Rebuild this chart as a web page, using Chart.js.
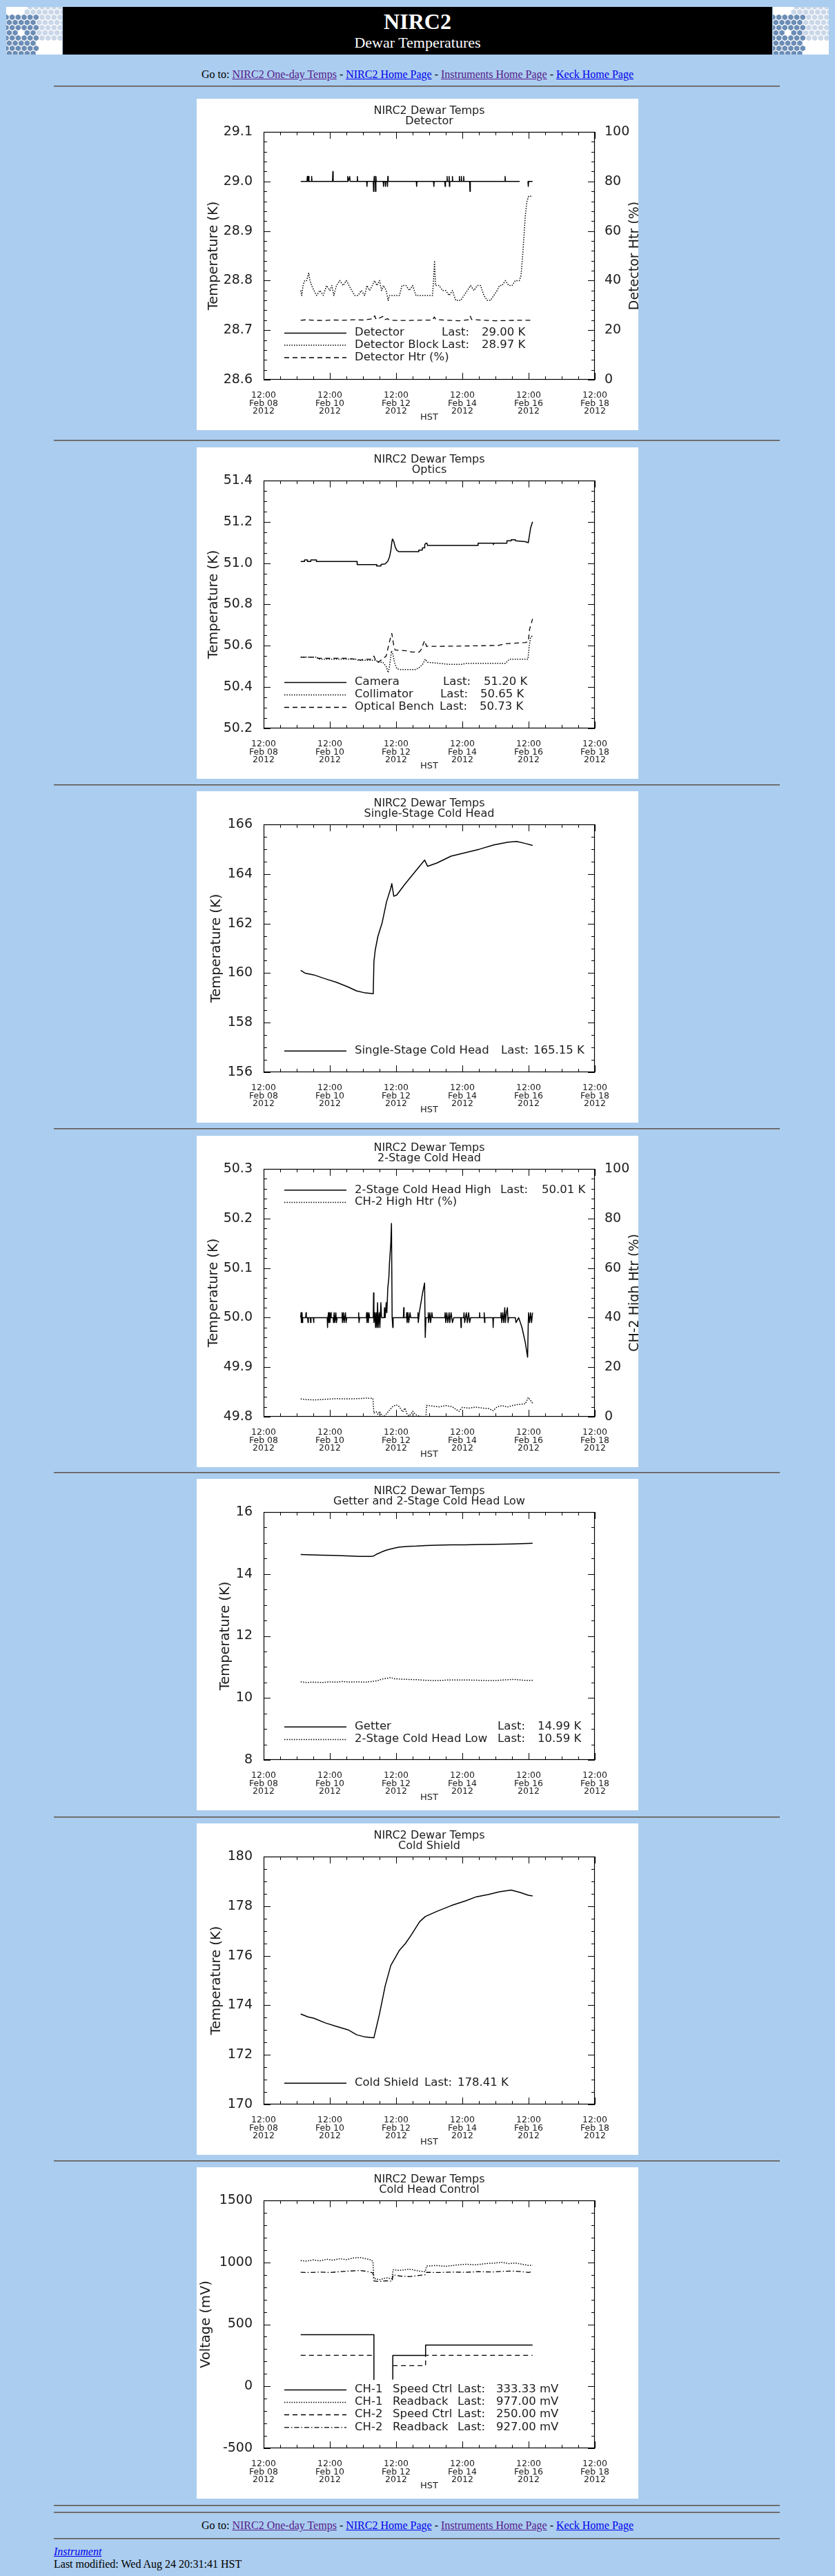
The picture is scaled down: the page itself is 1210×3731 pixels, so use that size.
<!DOCTYPE html>
<html><head><meta charset="utf-8">
<title>NIRC2 Dewar Temperatures</title>
<script src="https://cdn.jsdelivr.net/npm/chart.js@4.4.1/dist/chart.umd.min.js"></script>
<style>
html,body{margin:0;padding:0;background:#abcdef;}
body{width:1210px;height:3731px;position:relative;overflow:hidden;font-family:"Liberation Serif","Times New Roman",serif;color:#000;}
.abs{position:absolute;}
.hr{position:absolute;left:78px;width:1052px;height:0;border-top:1px solid #555;border-bottom:1px solid #8a8a8a;}
.goto{position:absolute;left:0;width:1210px;text-align:center;font-size:16px;line-height:18px;}
a{text-decoration:underline;}
a.v{color:#551a8b;} a.u{color:#0000ee;}
canvas.chart{position:absolute;left:285px;width:640px;height:480px;background:#fff;}
.banner{position:absolute;left:91px;top:10px;width:1028px;height:69px;background:#000;color:#fff;text-align:center;}
.logo{position:absolute;top:10px;width:81px;height:69px;background:#fff;}
</style>
</head>
<body>
<div class="logo" id="logoL" style="left:9px"></div>
<div class="banner">
  <div class="abs" style="left:0;width:1028px;top:2px;font-size:32px;line-height:38px;font-weight:bold;">NIRC2</div>
  <div class="abs" style="left:0;width:1028px;top:39px;font-size:22px;line-height:26px;">Dewar Temperatures</div>
</div>
<div class="logo" id="logoR" style="left:1120px"></div>

<div class="goto" style="top:99px">Go to: <a class="v" href="#">NIRC2 One-day Temps</a> - <a class="u" href="#">NIRC2 Home Page</a> - <a class="v" href="#">Instruments Home Page</a> - <a class="u" href="#">Keck Home Page</a></div>

<div class="hr" style="top:124px"></div>
<canvas class="chart" id="c1" width="640" height="480" style="top:143px"></canvas>
<div class="hr" style="top:637px"></div>
<canvas class="chart" id="c2" width="640" height="480" style="top:648px"></canvas>
<div class="hr" style="top:1136px"></div>
<canvas class="chart" id="c3" width="640" height="480" style="top:1146px"></canvas>
<div class="hr" style="top:1634px"></div>
<canvas class="chart" id="c4" width="640" height="480" style="top:1645px"></canvas>
<div class="hr" style="top:2132px"></div>
<canvas class="chart" id="c5" width="640" height="480" style="top:2142px"></canvas>
<div class="hr" style="top:2631px"></div>
<canvas class="chart" id="c6" width="640" height="480" style="top:2641px"></canvas>
<div class="hr" style="top:3129px"></div>
<canvas class="chart" id="c7" width="640" height="480" style="top:3139px"></canvas>
<div class="hr" style="top:3628px"></div>
<div class="hr" style="top:3638px"></div>
<div class="goto" style="top:3649px">Go to: <a class="v" href="#">NIRC2 One-day Temps</a> - <a class="u" href="#">NIRC2 Home Page</a> - <a class="v" href="#">Instruments Home Page</a> - <a class="u" href="#">Keck Home Page</a></div>
<div class="hr" style="top:3676px"></div>
<div class="abs" style="left:78px;top:3687px;font-size:16px;line-height:18px;"><a class="u" href="#"><i>Instrument</i></a></div>
<div class="abs" style="left:78px;top:3705px;font-size:16px;line-height:18px;">Last modified: Wed Aug 24 20:31:41 HST</div>

<script>
// ---------------- shared axis data ----------------
// x values are days since Feb 08 2012 12:00 HST
const X_TICK_VALUES = [0, 2, 4, 6, 8, 10];
const X_TICK_LABELS = [
  ["12:00","Feb 08","2012"],["12:00","Feb 10","2012"],["12:00","Feb 12","2012"],
  ["12:00","Feb 14","2012"],["12:00","Feb 16","2012"],["12:00","Feb 18","2012"]];
const HTR_TICKS = [0,20,40,60,80,100];
const HTR_TICK_LABELS = ["0","20","40","60","80","100"];

// ---------------- 1. Detector ----------------
const DET_TICKS = [28.6,28.7,28.8,28.9,29.0,29.1];
const DET_TICK_LABELS = ["28.6","28.7","28.8","28.9","29.0","29.1"];
const detector = [[1.12,29.00],[1.31,29.00],[1.32,29.01],[1.33,29.00],[1.35,29.00],[1.36,29.01],[1.37,29.00],[1.44,29.00],[1.45,29.01],[1.46,29.00],
 [2.08,29.00],[2.09,29.02],[2.10,29.00],[2.53,29.00],[2.54,29.01],[2.55,29.00],[2.60,29.01],[2.61,29.00],[2.82,29.00],[2.83,29.01],[2.84,29.00],
 [3.11,29.00],[3.12,28.99],[3.13,29.00],[3.31,29.00],[3.32,28.98],[3.33,29.00],[3.34,29.01],[3.35,29.00],[3.37,29.00],[3.38,28.98],[3.39,29.01],[3.40,29.00],
 [3.61,29.00],[3.62,28.99],[3.63,29.00],[3.67,29.00],[3.68,28.99],[3.69,29.00],[3.73,29.00],[3.74,28.99],[3.75,29.01],[3.76,29.00],
 [4.61,29.00],[4.62,28.99],[4.63,29.00],[5.13,29.00],[5.14,28.99],[5.15,29.00],[5.47,29.00],[5.48,28.99],[5.49,29.00],[5.53,29.00],[5.54,29.01],[5.55,29.00],
 [5.59,29.00],[5.60,29.01],[5.61,28.99],[5.62,29.00],[5.69,29.00],[5.70,29.01],[5.71,29.00],[5.90,29.00],[5.91,29.01],[5.92,29.00],[5.96,29.00],[5.97,29.01],[5.98,29.00],
 [6.03,29.00],[6.04,29.01],[6.05,29.00],[6.22,29.00],[6.23,28.98],[6.24,29.00],[7.28,29.00],[7.29,29.01],[7.30,29.00],[7.73,29.00],[7.86,null],
 [7.98,29.00],[7.99,28.99],[8.00,29.00],[8.12,29.00]];
const detectorBlock = [[1.12,28.78],[1.15,28.77],[1.19,28.79],[1.24,28.80],[1.30,28.80],[1.36,28.815],[1.40,28.80],[1.45,28.79],[1.52,28.78],[1.60,28.77],
 [1.70,28.78],[1.80,28.77],[1.90,28.79],[2.00,28.78],[2.06,28.79],[2.12,28.77],[2.20,28.79],[2.30,28.80],[2.40,28.79],[2.50,28.80],[2.58,28.79],
 [2.66,28.78],[2.75,28.77],[2.85,28.77],[2.95,28.78],[3.05,28.77],[3.12,28.79],[3.20,28.78],[3.28,28.79],[3.35,28.80],[3.42,28.79],[3.50,28.80],
 [3.56,28.78],[3.62,28.79],[3.70,28.78],[3.76,28.76],[3.80,28.77],[3.95,28.77],[4.10,28.77],[4.18,28.79],[4.30,28.79],[4.40,28.78],[4.50,28.79],
 [4.60,28.77],[4.75,28.77],[4.95,28.77],[5.10,28.77],[5.13,28.80],[5.16,28.84],[5.19,28.79],[5.30,28.79],[5.40,28.78],[5.50,28.78],[5.60,28.77],
 [5.70,28.78],[5.80,28.76],[5.95,28.76],[6.05,28.77],[6.15,28.78],[6.25,28.79],[6.35,28.78],[6.45,28.79],[6.55,28.79],[6.65,28.77],[6.75,28.76],
 [6.85,28.76],[6.95,28.77],[7.05,28.78],[7.12,28.79],[7.20,28.79],[7.30,28.80],[7.40,28.79],[7.50,28.79],[7.60,28.80],[7.72,28.80],[7.77,28.81],
 [7.82,28.85],[7.86,28.89],[7.90,28.93],[7.95,28.96],[8.00,28.97],[8.12,28.97]];
const detectorHtr = [[1.12,24.0],[1.30,24.2],[1.50,24.0],[1.80,23.9],[2.10,24.1],[2.40,24.0],[2.70,24.2],[3.00,24.1],[3.30,24.6],[3.35,25.8],[3.40,24.3],
 [3.60,25.5],[3.65,24.2],[3.75,24.6],[3.80,24.0],[4.20,23.9],[4.60,24.0],[5.10,24.1],[5.15,25.3],[5.20,24.3],[5.50,24.0],[5.90,23.8],[6.20,24.2],
 [6.24,25.6],[6.28,24.3],[6.60,24.0],[7.00,23.8],[7.40,23.9],[7.70,24.0],[8.12,24.0]];

// ---------------- 2. Optics ----------------
const OPT_TICKS = [50.2,50.4,50.6,50.8,51.0,51.2,51.4];
const OPT_TICK_LABELS = ["50.2","50.4","50.6","50.8","51.0","51.2","51.4"];
const camera = [[1.12,51.008],[1.23,51.008],[1.235,51.016],[1.32,51.016],[1.325,51.008],[1.42,51.008],[1.425,51.016],[1.59,51.016],[1.595,51.008],
 [2.82,51.008],[2.825,50.993],[3.41,50.993],[3.415,50.986],[3.54,50.986],[3.545,50.994],[3.67,50.996],[3.75,51.01],[3.80,51.03],[3.84,51.06],
 [3.87,51.10],[3.89,51.117],[3.93,51.105],[3.97,51.08],[4.02,51.062],[4.08,51.056],[4.68,51.056],[4.685,51.063],[4.79,51.063],[4.795,51.074],
 [4.86,51.074],[4.865,51.09],[4.90,51.097],[4.93,51.097],[4.95,51.086],[6.47,51.086],[6.475,51.097],[6.93,51.097],[6.935,51.09],[6.95,51.097],
 [7.34,51.097],[7.345,51.108],[7.47,51.108],[7.475,51.113],[7.60,51.113],[7.605,51.108],[7.90,51.104],[7.99,51.099],[8.02,51.13],[8.06,51.17],[8.12,51.20]];
const collimator = [[1.12,50.545],[1.60,50.545],[1.65,50.535],[2.80,50.535],[2.85,50.53],[3.40,50.53],[3.45,50.52],[3.60,50.52],[3.70,50.50],
 [3.76,50.47],[3.80,50.50],[3.86,50.575],[3.90,50.56],[3.95,50.52],[4.02,50.49],[4.10,50.485],[4.60,50.485],[4.70,50.495],[4.80,50.51],
 [4.88,50.535],[4.95,50.52],[5.30,50.515],[5.60,50.51],[6.00,50.51],[6.10,50.515],[7.30,50.515],[7.36,50.525],[7.42,50.535],[7.98,50.535],
 [8.02,50.60],[8.06,50.64],[8.12,50.65]];
const opticalBench = [[1.12,50.545],[1.60,50.545],[1.65,50.54],[2.46,50.54],[2.80,50.535],[2.94,50.53],[3.00,50.535],[3.24,50.535],[3.28,50.545],
 [3.33,50.55],[3.41,50.52],[3.50,50.525],[3.58,50.535],[3.70,50.55],[3.80,50.62],[3.87,50.66],[3.93,50.60],[3.97,50.58],[4.10,50.578],
 [4.40,50.575],[4.45,50.57],[4.70,50.57],[4.75,50.58],[4.86,50.625],[4.92,50.597],[5.60,50.598],[6.50,50.60],[7.10,50.602],[7.30,50.61],
 [7.90,50.616],[7.99,50.62],[8.03,50.68],[8.12,50.73]];

// ---------------- 3. Single-Stage Cold Head ----------------
const SS_TICKS = [156,158,160,162,164,166];
const SS_TICK_LABELS = ["156","158","160","162","164","166"];
const singleStage = [[1.12,160.11],[1.25,160.00],[1.51,159.93],[1.86,159.77],[2.20,159.63],[2.55,159.44],[2.81,159.28],[3.07,159.20],[3.31,159.17],
 [3.33,160.46],[3.37,160.93],[3.45,161.48],[3.58,162.04],[3.71,162.87],[3.84,163.43],[3.87,163.61],[3.93,163.10],[4.02,163.15],[4.28,163.61],
 [4.62,164.17],[4.86,164.56],[4.95,164.31],[5.23,164.44],[5.66,164.72],[6.09,164.86],[6.52,165.00],[6.95,165.17],[7.38,165.28],[7.64,165.31],
 [7.90,165.23],[8.12,165.15]];

// ---------------- 4. 2-Stage Cold Head ----------------
const CH2_TICKS = [49.8,49.9,50.0,50.1,50.2,50.3];
const CH2_TICK_LABELS = ["49.8","49.9","50.0","50.1","50.2","50.3"];
const ch2High = [[1.12,50.00],[1.13,50.01],[1.14,49.99],[1.16,50.01],[1.17,49.99],[1.18,50.00],[1.27,50.00],[1.28,50.01],[1.29,50.00],[1.33,50.00],[1.34,49.99],[1.35,50.00],
 [1.41,50.00],[1.42,49.99],[1.43,50.00],[1.50,50.00],[1.51,49.99],[1.52,50.00],[1.92,50.00],[1.93,49.98],[1.94,50.00],[1.96,50.01],[1.97,49.99],[1.99,50.01],
 [2.00,49.99],[2.03,50.01],[2.04,50.00],[2.10,50.00],[2.11,49.99],[2.13,50.01],[2.15,49.99],[2.18,50.01],[2.20,49.99],[2.22,50.00],[2.36,50.00],[2.37,50.01],
 [2.38,49.99],[2.41,50.01],[2.43,49.99],[2.47,50.01],[2.49,49.99],[2.51,50.00],[2.86,50.00],[2.87,50.01],[2.88,49.99],[2.90,50.00],[3.10,50.00],[3.11,50.01],
 [3.12,49.99],[3.14,50.01],[3.16,49.99],[3.18,50.01],[3.20,50.00],[3.31,50.00],[3.32,50.05],[3.33,49.99],[3.36,50.01],[3.38,49.98],[3.40,50.01],[3.42,49.98],
 [3.44,50.03],[3.46,49.98],[3.49,50.01],[3.51,49.98],[3.54,50.03],[3.56,50.00],[3.64,50.00],[3.65,50.02],[3.67,50.00],[3.70,50.03],[3.72,50.01],[3.75,50.06],
 [3.78,50.08],[3.80,50.11],[3.82,50.13],[3.84,50.15],[3.86,50.19],[3.88,50.00],[3.90,49.98],[3.91,50.00],[4.22,50.00],[4.23,50.02],[4.24,50.00],[4.31,50.00],
 [4.32,50.01],[4.33,49.99],[4.36,50.01],[4.38,49.99],[4.42,50.01],[4.44,50.00],[4.65,50.00],[4.66,50.01],[4.67,49.99],[4.70,50.01],[4.80,50.05],[4.86,50.07],
 [4.88,49.96],[4.90,50.00],[4.96,50.00],[4.97,50.01],[4.98,49.99],[5.02,50.01],[5.04,49.99],[5.08,50.01],[5.10,50.00],[5.47,50.00],[5.48,50.01],[5.50,49.99],
 [5.53,50.01],[5.56,49.99],[5.60,50.01],[5.62,49.99],[5.66,50.01],[5.70,49.99],[5.74,50.00],[5.95,50.00],[5.96,49.98],[5.97,50.00],[6.04,50.00],[6.05,50.01],
 [6.07,49.99],[6.12,50.01],[6.15,49.99],[6.19,50.01],[6.22,49.99],[6.25,50.00],[6.51,50.00],[6.52,50.01],[6.53,50.00],[6.65,50.00],[6.66,50.01],[6.67,49.99],
 [6.68,50.00],[6.92,50.00],[6.93,49.98],[6.94,50.00],[7.16,50.00],[7.17,50.01],[7.19,49.99],[7.22,50.01],[7.25,49.99],[7.28,50.02],[7.30,49.99],[7.33,50.01],
 [7.36,50.02],[7.38,49.99],[7.40,50.00],[7.60,50.00],[7.62,49.99],[7.70,50.00],[7.75,49.99],[7.80,49.98],[7.90,49.95],[7.97,49.92],[7.99,49.99],[8.00,50.01],
 [8.03,49.99],[8.06,50.01],[8.09,49.99],[8.12,50.01]];
const ch2HighHtr = [[1.12,7.2],[1.30,6.9],[1.60,6.8],[1.90,7.1],[2.20,7.3],[2.50,7.2],[2.80,7.3],[3.10,7.5],[3.30,7.4],[3.33,1.5],[3.40,2.0],[3.45,1.0],
 [3.50,2.2],[3.58,0.3],[3.63,0.0],[3.90,4.2],[4.00,4.8],[4.10,4.0],[4.20,2.0],[4.27,3.5],[4.33,1.0],[4.40,0.3],[4.50,2.2],[4.60,0.8],[4.70,0.2],
 [4.90,0.0],[4.92,4.6],[5.10,4.3],[5.30,4.0],[5.50,4.5],[5.70,4.0],[5.80,3.0],[5.90,2.2],[6.00,3.8],[6.20,3.5],[6.40,3.9],[6.60,3.5],[6.80,3.3],
 [6.93,2.5],[7.05,4.0],[7.20,4.5],[7.35,3.9],[7.50,4.5],[7.70,5.0],[7.90,5.2],[7.99,7.8],[8.12,5.5]];

// ---------------- 5. Getter and 2-Stage Cold Head Low ----------------
const GET_TICKS = [8,10,12,14,16];
const GET_TICK_LABELS = ["8","10","12","14","16"];
const getter = [[1.12,14.63],[1.45,14.62],[1.77,14.61],[2.10,14.60],[2.38,14.59],[2.65,14.58],[2.89,14.57],[3.24,14.57],[3.32,14.58],[3.41,14.64],
 [3.50,14.68],[3.58,14.72],[3.70,14.77],[3.84,14.81],[3.97,14.84],[4.10,14.87],[4.35,14.89],[4.62,14.90],[4.90,14.92],[5.23,14.93],[5.65,14.94],
 [6.09,14.94],[6.50,14.95],[6.95,14.96],[7.50,14.97],[8.12,14.99]];
const ch2Low = [[1.12,10.52],[1.30,10.50],[1.50,10.51],[1.77,10.50],[2.00,10.52],[2.20,10.51],[2.38,10.53],[2.60,10.51],[2.80,10.52],[3.07,10.51],
 [3.25,10.53],[3.41,10.55],[3.50,10.58],[3.58,10.61],[3.70,10.63],[3.84,10.66],[3.95,10.62],[4.10,10.61],[4.30,10.60],[4.62,10.59],[4.90,10.57],
 [5.23,10.56],[5.60,10.58],[6.09,10.58],[6.50,10.57],[6.95,10.56],[7.25,10.58],[7.56,10.60],[7.85,10.57],[8.12,10.57]];

// ---------------- 6. Cold Shield ----------------
const CS_TICKS = [170,172,174,176,178,180];
const CS_TICK_LABELS = ["170","172","174","176","178","180"];
const coldShield = [[1.12,173.65],[1.34,173.53],[1.51,173.48],[1.86,173.29],[2.20,173.15],[2.55,173.01],[2.81,172.81],[3.07,172.72],[3.33,172.69],
 [3.50,173.66],[3.67,174.78],[3.84,175.61],[3.93,175.82],[4.10,176.22],[4.28,176.49],[4.45,176.82],[4.71,177.37],[4.88,177.58],[5.23,177.79],
 [5.66,178.02],[6.09,178.21],[6.43,178.38],[6.78,178.47],[7.12,178.58],[7.47,178.65],[7.73,178.56],[7.99,178.44],[8.12,178.41]];

// ---------------- 7. Cold Head Control ----------------
const CHC_TICKS = [-500,0,500,1000,1500];
const CHC_TICK_LABELS = ["-500","0","500","1000","1500"];
const ch1Speed = [[1.12,416.67],[3.33,416.67],[3.33,55],[3.60,null],[3.90,55],[3.90,250],[4.89,250],[4.89,333.33],[8.12,333.33]];
const ch1Readback = [[1.12,1015],[1.30,1010],[1.50,1020],[1.70,1012],[1.90,1025],[2.10,1018],[2.30,1030],[2.50,1022],[2.70,1035],[2.90,1040],
 [3.10,1028],[3.25,1020],[3.30,1005],[3.33,870],[3.50,860],[3.70,875],[3.88,868],[3.91,940],[4.10,935],[4.40,945],[4.70,930],[4.88,925],
 [4.92,970],[5.20,975],[5.50,968],[5.80,978],[6.10,985],[6.40,980],[6.70,990],[7.00,995],[7.20,1000],[7.40,990],[7.60,995],[7.80,985],[8.00,975],[8.12,977]];
const ch2Speed = [[1.12,250],[3.33,250],[3.60,null],[3.90,166.67],[4.89,166.67],[4.89,250],[8.12,250]];
const ch2Readback = [[1.12,920],[1.40,918],[1.70,922],[2.00,918],[2.30,925],[2.60,930],[2.90,935],[3.10,928],[3.30,915],[3.33,850],[3.50,845],
 [3.70,852],[3.88,848],[3.91,900],[4.10,890],[4.40,885],[4.70,895],[4.88,900],[4.92,920],[5.30,918],[5.70,922],[6.10,920],[6.50,925],[6.90,922],
 [7.20,928],[7.50,930],[7.80,925],[8.00,918],[8.12,927]];

// ---------------- styles ----------------
const SOLID = [], DOTTED = [1.5, 2], DASHED = [7, 5], DASHDOT = [7, 3, 1.5, 3];
const FONT = "'DejaVu Sans', 'Liberation Sans', sans-serif";
const INK = '#1c1c1c';
Chart.defaults.font.family = FONT;
Chart.defaults.color = INK;

let pluginCount = 0;
function idlPlugin(spec) {
  return {
    id: 'idl' + (pluginCount++),
    beforeDraw(chart) {
      const c = chart.ctx; c.save(); c.fillStyle = '#fff'; c.fillRect(0, 0, chart.width, chart.height); c.restore();
    },
    afterDraw(chart) {
      const ctx = chart.ctx, a = chart.chartArea, sx = chart.scales.x, sy = chart.scales.y, sy2 = chart.scales.y2;
      ctx.save();
      ctx.strokeStyle = '#000'; ctx.lineWidth = 1.2; ctx.setLineDash([]);
      ctx.strokeRect(a.left + 0.5, a.top + 0.5, a.right - a.left - 1, a.bottom - a.top - 1);
      ctx.lineWidth = 1;
      function ticks(scale, min, max, minor, major, sides) {
        const n = Math.round((max - min) / minor), every = Math.round(major / minor);
        for (let i = 0; i <= n; i++) {
          const len = (i % every === 0) ? 10 : 5;
          const p = Math.round(scale.getPixelForValue(min + i * minor)) + 0.5;
          ctx.beginPath();
          sides.forEach(s => {
            if (s === 'b') { ctx.moveTo(p, a.bottom); ctx.lineTo(p, a.bottom - len); }
            if (s === 't') { ctx.moveTo(p, a.top); ctx.lineTo(p, a.top + len); }
            if (s === 'l') { ctx.moveTo(a.left, p); ctx.lineTo(a.left + len, p); }
            if (s === 'r') { ctx.moveTo(a.right, p); ctx.lineTo(a.right - len, p); }
          });
          ctx.stroke();
        }
      }
      ticks(sx, 0, 10, 0.5, 2, ['b', 't']);
      ticks(sy, spec.yMin, spec.yMax, spec.yMinor, spec.yMajor, sy2 ? ['l'] : ['l', 'r']);
      if (sy2) ticks(sy2, 0, 100, 4, 20, ['r']);
      ctx.fillStyle = INK;
      ctx.textBaseline = 'middle';
      // titles
      ctx.font = '16px ' + FONT; ctx.textAlign = 'center';
      const cx = (a.left + a.right) / 2;
      ctx.fillText(spec.title, cx, 18);
      ctx.fillText(spec.subtitle, cx, 32.5);
      // right axis title (reads bottom to top, cut by the image edge as in the original)
      if (spec.rightTitle) {
        ctx.save(); ctx.font = '19px ' + FONT; ctx.textBaseline = 'alphabetic';
        ctx.translate(640, (a.top + a.bottom) / 2); ctx.rotate(-Math.PI / 2);
        ctx.fillText(spec.rightTitle, 0, 0); ctx.restore();
      }
      // legend
      ctx.font = '16.5px ' + FONT;
      spec.legend.forEach(row => {
        const ds = chart.data.datasets[row.ds];
        ctx.save(); ctx.strokeStyle = '#000'; ctx.lineWidth = ds.borderWidth; ctx.setLineDash(ds.borderDash);
        ctx.beginPath(); ctx.moveTo(127, row.y + 0.5); ctx.lineTo(217, row.y + 0.5); ctx.stroke(); ctx.restore();
        row.items.forEach(it => { ctx.textAlign = it[2] || 'left'; ctx.fillText(it[0], it[1], row.y); });
      });
      ctx.restore();
    }
  };
}

function makeChart(id, spec) {
  const datasets = spec.series.map(s => ({
    label: s.name,
    data: s.data.map(p => ({ x: p[0], y: p[1] })),
    borderColor: '#000', borderWidth: s.dash === DOTTED ? 1.5 : (s.dash.length ? 1.3 : 1.5), borderDash: s.dash,
    borderJoinStyle: 'round', pointRadius: 0, pointHoverRadius: 0, tension: 0, fill: false, spanGaps: false,
    yAxisID: s.axis || 'y'
  }));
  const scales = {
    x: {
      type: 'linear', position: 'bottom', min: 0, max: 10,
      afterBuildTicks: sc => { sc.ticks = X_TICK_VALUES.map(v => ({ value: v })); },
      afterFit: sc => { sc.height = 73; },
      grid: { display: false }, border: { display: false },
      ticks: { autoSkip: false, maxRotation: 0, minRotation: 0, padding: 9, color: INK,
        font: { size: 12.5, lineHeight: 0.92 }, callback: (v, i) => X_TICK_LABELS[i] },
      title: { display: true, text: 'HST', color: INK, font: { size: 13 }, padding: { top: 0, bottom: 11 } }
    },
    y: {
      type: 'linear', position: 'left', min: spec.yMin, max: spec.yMax,
      afterBuildTicks: sc => { sc.ticks = spec.yTicks.map(v => ({ value: v })); },
      afterFit: sc => { sc.width = 97; },
      grid: { display: false }, border: { display: false },
      ticks: { padding: 8, color: INK, font: { size: 19 }, callback: (v, i) => spec.yTickLabels[i] },
      title: { display: true, text: spec.yTitle, color: INK, font: { size: 19.5 }, padding: { top: spec.yTitlePad, bottom: 0 } }
    }
  };
  if (spec.rightTitle) {
    scales.y2 = {
      type: 'linear', position: 'right', min: 0, max: 100,
      afterBuildTicks: sc => { sc.ticks = HTR_TICKS.map(v => ({ value: v })); },
      afterFit: sc => { sc.width = 63; },
      grid: { display: false }, border: { display: false },
      ticks: { padding: 6, color: INK, font: { size: 19 }, callback: (v, i) => HTR_TICK_LABELS[i] }
    };
  }
  new Chart(document.getElementById(id), {
    type: 'line',
    data: { datasets },
    options: {
      responsive: false, animation: false, events: [],
      layout: { padding: { top: 48, right: spec.rightTitle ? 0 : 63, bottom: 0, left: 0 } },
      plugins: { legend: { display: false }, tooltip: { enabled: false }, title: { display: false } },
      scales
    },
    plugins: [idlPlugin(spec)]
  });
}

const T = 'NIRC2 Dewar Temps';
makeChart('c1', {
  title: T, subtitle: 'Detector', yTitle: 'Temperature (K)', yTitlePad: 13, rightTitle: 'Detector Htr (%)',
  yMin: 28.6, yMax: 29.1, yMinor: 0.02, yMajor: 0.1, yTicks: DET_TICKS, yTickLabels: DET_TICK_LABELS,
  series: [
    { name: 'Detector', data: detector, dash: SOLID },
    { name: 'Detector Block', data: detectorBlock, dash: DOTTED },
    { name: 'Detector Htr (%)', data: detectorHtr, dash: DASHED, axis: 'y2' }],
  legend: [
    { ds: 0, y: 339, items: [['Detector', 229], ['Last:', 395, 'right'], ['29.00 K', 413]] },
    { ds: 1, y: 356.5, items: [['Detector Block', 229], ['Last:', 395, 'right'], ['28.97 K', 413]] },
    { ds: 2, y: 374.5, items: [['Detector Htr (%)', 229]] }]
});
makeChart('c2', {
  title: T, subtitle: 'Optics', yTitle: 'Temperature (K)', yTitlePad: 13,
  yMin: 50.2, yMax: 51.4, yMinor: 0.05, yMajor: 0.2, yTicks: OPT_TICKS, yTickLabels: OPT_TICK_LABELS,
  series: [
    { name: 'Camera', data: camera, dash: SOLID },
    { name: 'Collimator', data: collimator, dash: DOTTED },
    { name: 'Optical Bench', data: opticalBench, dash: DASHED }],
  legend: [
    { ds: 0, y: 340, items: [['Camera', 229], ['Last:', 397, 'right'], ['51.20 K', 416]] },
    { ds: 1, y: 358, items: [['Collimator', 229], ['Last:', 393, 'right'], ['50.65 K', 411]] },
    { ds: 2, y: 376, items: [['Optical Bench', 229], ['Last:', 392, 'right'], ['50.73 K', 410]] }]
});
makeChart('c3', {
  title: T, subtitle: 'Single-Stage Cold Head', yTitle: 'Temperature (K)', yTitlePad: 17.6,
  yMin: 156, yMax: 166, yMinor: 0.5, yMajor: 2, yTicks: SS_TICKS, yTickLabels: SS_TICK_LABELS,
  series: [{ name: 'Single-Stage Cold Head', data: singleStage, dash: SOLID }],
  legend: [{ ds: 0, y: 375.7, items: [['Single-Stage Cold Head', 229], ['Last:', 481, 'right'], ['165.15 K', 488]] }]
});
makeChart('c4', {
  title: T, subtitle: '2-Stage Cold Head', yTitle: 'Temperature (K)', yTitlePad: 13, rightTitle: 'CH-2 High Htr (%)',
  yMin: 49.8, yMax: 50.3, yMinor: 0.02, yMajor: 0.1, yTicks: CH2_TICKS, yTickLabels: CH2_TICK_LABELS,
  series: [
    { name: '2-Stage Cold Head High', data: ch2High, dash: SOLID },
    { name: 'CH-2 High Htr (%)', data: ch2HighHtr, dash: DOTTED, axis: 'y2' }],
  legend: [
    { ds: 0, y: 78.3, items: [['2-Stage Cold Head High', 229], ['Last:', 480, 'right'], ['50.01 K', 500]] },
    { ds: 1, y: 96, items: [['CH-2 High Htr (%)', 229]] }]
});
makeChart('c5', {
  title: T, subtitle: 'Getter and 2-Stage Cold Head Low', yTitle: 'Temperature (K)', yTitlePad: 30,
  yMin: 8, yMax: 16, yMinor: 0.5, yMajor: 2, yTicks: GET_TICKS, yTickLabels: GET_TICK_LABELS,
  series: [
    { name: 'Getter', data: getter, dash: SOLID },
    { name: '2-Stage Cold Head Low', data: ch2Low, dash: DOTTED }],
  legend: [
    { ds: 0, y: 358.7, items: [['Getter', 229], ['Last:', 476, 'right'], ['14.99 K', 494]] },
    { ds: 1, y: 377, items: [['2-Stage Cold Head Low', 229], ['Last:', 476, 'right'], ['10.59 K', 494]] }]
});
makeChart('c6', {
  title: T, subtitle: 'Cold Shield', yTitle: 'Temperature (K)', yTitlePad: 17.6,
  yMin: 170, yMax: 180, yMinor: 0.5, yMajor: 2, yTicks: CS_TICKS, yTickLabels: CS_TICK_LABELS,
  series: [{ name: 'Cold Shield', data: coldShield, dash: SOLID }],
  legend: [{ ds: 0, y: 375.7, items: [['Cold Shield', 229], ['Last:', 370, 'right'], ['178.41 K', 378]] }]
});
makeChart('c7', {
  title: T, subtitle: 'Cold Head Control', yTitle: 'Voltage (mV)', yTitlePad: 2,
  yMin: -500, yMax: 1500, yMinor: 100, yMajor: 500, yTicks: CHC_TICKS, yTickLabels: CHC_TICK_LABELS,
  series: [
    { name: 'CH-1 Speed Ctrl', data: ch1Speed, dash: SOLID },
    { name: 'CH-1 Readback', data: ch1Readback, dash: DOTTED },
    { name: 'CH-2 Speed Ctrl', data: ch2Speed, dash: DASHED },
    { name: 'CH-2 Readback', data: ch2Readback, dash: DASHDOT }],
  legend: [
    { ds: 0, y: 322, items: [['CH-1', 229], ['Speed Ctrl', 284], ['Last:', 418, 'right'], ['333.33 mV', 434]] },
    { ds: 1, y: 340, items: [['CH-1', 229], ['Readback', 284], ['Last:', 418, 'right'], ['977.00 mV', 434]] },
    { ds: 2, y: 358, items: [['CH-2', 229], ['Speed Ctrl', 284], ['Last:', 418, 'right'], ['250.00 mV', 434]] },
    { ds: 3, y: 376.3, items: [['CH-2', 229], ['Readback', 284], ['Last:', 418, 'right'], ['927.00 mV', 434]] }]
});

// ---------------- decorative hexagon logos ----------------
function hexLogo(id) {
  const r = 5, w = Math.sqrt(3) * r;
  let s = '';
  for (let row = 0; row < 12; row++) {
    for (let col = -1; col < 12; col++) {
      const cx = col * w + (row % 2 ? w / 2 : 0), cy = row * 1.5 * r;
      let fill = null;
      if (Math.hypot(cx - 22, cy - 40) < 4) fill = null;
      else if (cx < 44 && cy > 14) fill = '#6b8db6';
      else if (cx >= 30 && cy < 50) fill = '#c9d7e8';
      if (!fill) continue;
      const p = [];
      for (let k = 0; k < 6; k++) {
        const ang = Math.PI / 180 * (60 * k - 30);
        p.push((cx + (r - 0.7) * Math.cos(ang)).toFixed(1) + ',' + (cy + (r - 0.7) * Math.sin(ang)).toFixed(1));
      }
      s += '<polygon points="' + p.join(' ') + '" fill="' + fill + '"/>';
    }
  }
  document.getElementById(id).innerHTML = '<svg width="81" height="69" viewBox="0 0 81 69" xmlns="http://www.w3.org/2000/svg"><rect width="81" height="69" fill="#fff"/>' + s + '</svg>';
}
hexLogo('logoL'); hexLogo('logoR');
</script>
</body></html>
